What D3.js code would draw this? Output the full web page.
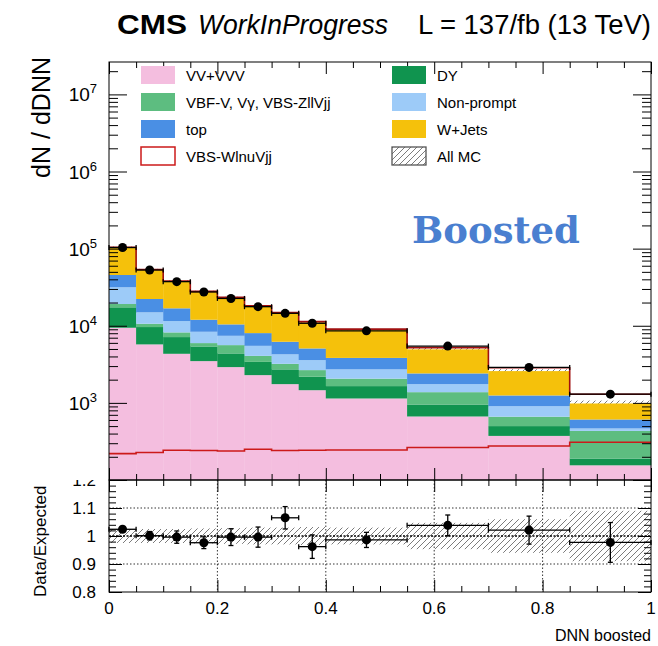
<!DOCTYPE html>
<html lang="en">
<head>
<meta charset="UTF-8">
<title>DNN boosted</title>
<script src="https://d3js.org/d3.v7.min.js"></script>
<style>
    body { margin: 0; background: #fff; }
    svg { display: block; font-family: "Liberation Sans", Arial, Helvetica, sans-serif; }
</style>
</head>
<body>
<svg id="chart" width="658" height="646"></svg>
<script>
// bins of the DNN score
const binEdges = [0, 0.05, 0.1, 0.15, 0.2, 0.25, 0.3, 0.35, 0.4, 0.55, 0.7, 0.85, 1.0];

// background processes (stacked, bottom to top)
const vv        = [9420, 5730, 4330, 3480, 2910, 2290, 1750, 1460, 1140, 666, 373, 155];
const dy        = [7920, 3890, 2800, 1910, 1470, 1110, 970, 720, 510, 287, 127, 35];
const vbf       = [1800, 1000, 1070, 570, 1230, 670, 490, 480, 410, 424, 162, 243];
const nonprompt = [12410, 4310, 3310, 2400, 1800, 1420, 1050, 930, 660, 373, 244, 33];
const top_      = [13950, 7300, 5320, 3610, 3010, 2540, 1940, 1490, 1110, 660, 342, 143];
const wjets     = [58300, 31100, 20930, 15700, 12690, 9820, 8430, 5990, 4960, 2532, 1334, 373];

// signal
const signal = [220, 227, 243, 241, 238, 251, 241, 243, 245, 264, 276, 309];

// data
const data = [103300, 52800, 37340, 27440, 22600, 17680, 14500, 10770, 8600, 5445, 2884, 1297];

// ratio panel
const ratio    = [1.024, 1.001, 0.996, 0.976, 0.996, 0.996, 1.065, 0.962, 0.986, 1.038, 1.021, 0.977];
const ratioErr = [0.007, 0.015, 0.022, 0.021, 0.03, 0.036, 0.04, 0.042, 0.027, 0.037, 0.05, 0.071];
const bandErr  = [0.025, 0.025, 0.025, 0.027, 0.028, 0.03, 0.03, 0.032, 0.03, 0.047, 0.06, 0.09];

const xTicksMajor = [0, 0.2, 0.4, 0.6, 0.8, 1];
const xTickLabels = ["0", "0.2", "0.4", "0.6", "0.8", "1"];
const yPowers = [3, 4, 5, 6, 7];
const rTicksMajor = [0.8, 0.9, 1, 1.1, 1.2];
const rTickLabels = ["0.8", "0.9", "1", "1.1", "1.2"];

const legendCol1 = [
    { label: "VV+VVV", key: "vv" },
    { label: "VBF-V, V\u03b3, VBS-ZllVjj", key: "vbf" },
    { label: "top", key: "top" },
    { label: "VBS-WlnuVjj", key: "signal" }
];
const legendCol2 = [
    { label: "DY", key: "dy" },
    { label: "Non-prompt", key: "nonprompt" },
    { label: "W+Jets", key: "wjets" },
    { label: "All MC", key: "allmc" }
];

const colors = {
    vv: "#f4bedf",
    dy: "#10944f",
    vbf: "#5dbd80",
    nonprompt: "#9dcbf8",
    top: "#4a8fe4",
    wjets: "#f5c10b",
    signal: "#cc1a1a"
};

const left = 109, right = 651;
const mainTop = 62, mainBottom = 480, ratioBottom = 592;

const svg = d3.select("#chart");

const x = d3.scaleLinear().domain([0, 1]).range([left, right]);
const y = d3.scaleLog().domain([100, Math.pow(10, 7.42)]).range([mainBottom, mainTop]);
const yr = d3.scaleLinear().domain([0.8, 1.2]).range([ratioBottom, mainBottom]);

const defs = svg.append("defs");
defs.append("pattern")
    .attr("id", "hatch")
    .attr("patternUnits", "userSpaceOnUse")
    .attr("width", 6).attr("height", 6)
    .append("path")
    .attr("d", "M-1,1 l2,-2 M0,6 l6,-6 M5,7 l2,-2")
    .attr("stroke", "#444")
    .attr("stroke-width", 0.7);

defs.append("clipPath").attr("id", "ratioClip")
    .append("rect").attr("x", 0).attr("y", mainBottom).attr("width", 658).attr("height", 646 - mainBottom);

const bins = binEdges.slice(0, -1).map((lo, i) => ({
    lo, hi: binEdges[i + 1],
    vv: vv[i], dy: dy[i], vbf: vbf[i], nonprompt: nonprompt[i], top: top_[i], wjets: wjets[i],
    signal: signal[i], data: data[i],
    ratio: ratio[i], ratioErr: ratioErr[i], bandErr: bandErr[i]
}));
bins.forEach(d => { d.total = d.vv + d.dy + d.vbf + d.nonprompt + d.top + d.wjets; });

// ---------- main panel ----------
const main = svg.append("g");

// uncertainty band (under the stack, so it shows only above it)
main.selectAll(".band")
    .data(bins).enter().append("rect")
    .attr("x", d => x(d.lo))
    .attr("width", d => x(d.hi) - x(d.lo))
    .attr("y", d => y(d.total * (1 + d.bandErr)))
    .attr("height", d => y(d.total * (1 - d.bandErr)) - y(d.total * (1 + d.bandErr)))
    .attr("fill", "url(#hatch)");

const keys = ["vv", "dy", "vbf", "nonprompt", "top", "wjets"];
const series = d3.stack().keys(keys)(bins);

main.selectAll(".layer")
    .data(series).enter().append("g")
    .attr("fill", s => colors[s.key])
    .selectAll("rect")
    .data(s => s).enter().append("rect")
    .attr("x", d => x(d.data.lo))
    .attr("width", d => x(d.data.hi) - x(d.data.lo) + 0.3)
    .attr("y", d => y(d[1]))
    .attr("height", d => y(Math.max(d[0], 100)) - y(d[1]));

// signal: alone, and stacked on top of the backgrounds
const step = d3.line().curve(d3.curveStepAfter).x(d => x(d.x)).y(d => y(d.v));
const stepPts = f => bins.map(d => ({ x: d.lo, v: f(d) })).concat([{ x: 1, v: f(bins[bins.length - 1]) }]);

main.append("path")
    .attr("d", step(stepPts(d => d.signal)))
    .attr("fill", "none").attr("stroke", colors.signal).attr("stroke-width", 1.6);

main.append("path")
    .attr("d", step(stepPts(d => d.total + d.signal)))
    .attr("fill", "none").attr("stroke", "#a01010").attr("stroke-width", 1.6);

// data points
const dataG = main.append("g").attr("stroke", "#000").attr("stroke-width", 1.3);
bins.forEach(d => {
    const cy = y(d.data), cx = x((d.lo + d.hi) / 2);
    dataG.append("line").attr("x1", x(d.lo)).attr("x2", x(d.hi)).attr("y1", cy).attr("y2", cy);
    dataG.append("line").attr("x1", x(d.lo)).attr("x2", x(d.lo)).attr("y1", cy - 2.5).attr("y2", cy + 2.5);
    dataG.append("line").attr("x1", x(d.hi)).attr("x2", x(d.hi)).attr("y1", cy - 2.5).attr("y2", cy + 2.5);
    dataG.append("line").attr("x1", cx).attr("x2", cx)
        .attr("y1", y(d.data * (1 + d.ratioErr))).attr("y2", y(d.data * (1 - d.ratioErr)));
    dataG.append("circle").attr("cx", cx).attr("cy", cy).attr("r", 4.5).attr("fill", "#000").attr("stroke", "none");
});

// axes of the main panel
const minorX = d3.range(0, 1.0001, 0.05).filter(v => !xTicksMajor.some(m => Math.abs(m - v) < 1e-6));
const logMajor = yPowers.concat([2]).map(p => Math.pow(10, p));
const logMinor = y.ticks().filter(v => !logMajor.includes(v));

function addAxis(g, axis, values, size) {
    g.call(axis.tickValues(values).tickSizeInner(-size).tickSizeOuter(0).tickFormat(""));
    g.select(".domain").remove();
    g.selectAll("line").attr("stroke", "#000");
}

[[d3.axisLeft, left], [d3.axisRight, right]].forEach(([ax, px]) => {
    addAxis(svg.append("g").attr("transform", `translate(${px},0)`), ax(y), logMajor, 18);
    addAxis(svg.append("g").attr("transform", `translate(${px},0)`), ax(y), logMinor, 9);
});
[[d3.axisTop, mainTop], [d3.axisBottom, mainBottom]].forEach(([ax, py]) => {
    addAxis(svg.append("g").attr("transform", `translate(0,${py})`), ax(x), xTicksMajor, 12);
    addAxis(svg.append("g").attr("transform", `translate(0,${py})`), ax(x), minorX, 6);
});

main.append("rect")
    .attr("x", left).attr("y", mainTop)
    .attr("width", right - left).attr("height", mainBottom - mainTop)
    .attr("fill", "none").attr("stroke", "#000").attr("stroke-width", 1);

// y labels 10^n
yPowers.forEach(p => {
    const t = svg.append("text")
        .attr("x", 97).attr("y", y(Math.pow(10, p)) + 7)
        .attr("text-anchor", "end").attr("font-size", 19).attr("fill", "#000");
    t.append("tspan").text("10");
    t.append("tspan").attr("dy", -8).attr("font-size", 13).text(p);
});

svg.append("text")
    .attr("transform", `translate(50,${mainTop - 5}) rotate(-90)`)
    .attr("text-anchor", "end").attr("font-size", 25)
    .text("dN / dDNN");

// legend
const legend = svg.append("g").attr("font-size", 15);
function legendRow(item, i, bx, tx) {
    const cy = 75 + i * 27;
    const box = legend.append("rect")
        .attr("x", bx).attr("y", cy - 9).attr("width", 34).attr("height", 18);
    if (item.key === "signal") {
        box.attr("fill", "#fff").attr("stroke", colors.signal).attr("stroke-width", 1.5);
    } else if (item.key === "allmc") {
        box.attr("fill", "url(#hatch)").attr("stroke", "#555").attr("stroke-width", 1.3);
    } else {
        box.attr("fill", colors[item.key]);
    }
    legend.append("text").attr("x", tx).attr("y", cy + 5.5).text(item.label);
}
legendCol1.forEach((d, i) => legendRow(d, i, 141, 186));
legendCol2.forEach((d, i) => legendRow(d, i, 392, 437));

svg.append("text")
    .attr("x", 412).attr("y", 243)
    .attr("font-family", "'DejaVu Serif', serif").attr("font-weight", "bold")
    .attr("font-size", 37).attr("fill", "#4a7fd0")
    .text("Boosted");

// header
svg.append("text").attr("x", 117).attr("y", 34)
    .attr("font-size", 28).attr("font-weight", "bold")
    .attr("textLength", 70).attr("lengthAdjust", "spacingAndGlyphs").text("CMS");
svg.append("text").attr("x", 198).attr("y", 34)
    .attr("font-size", 27).attr("font-style", "italic")
    .attr("textLength", 190).attr("lengthAdjust", "spacingAndGlyphs").text("WorkInProgress");
svg.append("text").attr("x", 418).attr("y", 34)
    .attr("font-size", 27)
    .attr("textLength", 233).attr("lengthAdjust", "spacingAndGlyphs").text("L = 137/fb (13 TeV)");

// ---------- ratio panel ----------
const ratioG = svg.append("g");

const grid = ratioG.append("g").attr("stroke", "#000").attr("stroke-width", 0.8).attr("stroke-dasharray", "1.5,2");
[0.9, 1.1].forEach(v => grid.append("line").attr("x1", left).attr("x2", right).attr("y1", yr(v)).attr("y2", yr(v)));
[0.2, 0.4, 0.6, 0.8].forEach(v => grid.append("line").attr("x1", x(v)).attr("x2", x(v)).attr("y1", mainBottom).attr("y2", ratioBottom));

ratioG.selectAll(".rband")
    .data(bins).enter().append("rect")
    .attr("x", d => x(d.lo))
    .attr("width", d => x(d.hi) - x(d.lo))
    .attr("y", d => yr(1 + d.bandErr))
    .attr("height", d => yr(1 - d.bandErr) - yr(1 + d.bandErr))
    .attr("fill", "url(#hatch)");

ratioG.append("line")
    .attr("x1", left).attr("x2", right).attr("y1", yr(1)).attr("y2", yr(1))
    .attr("stroke", "#000").attr("stroke-width", 1.6).attr("stroke-dasharray", "2,1.5");

const rpts = ratioG.append("g").attr("stroke", "#000").attr("stroke-width", 1.3);
bins.forEach(d => {
    const cy = yr(d.ratio), cx = x((d.lo + d.hi) / 2);
    rpts.append("line").attr("x1", x(d.lo)).attr("x2", x(d.hi)).attr("y1", cy).attr("y2", cy);
    rpts.append("line").attr("x1", x(d.lo)).attr("x2", x(d.lo)).attr("y1", cy - 2.5).attr("y2", cy + 2.5);
    rpts.append("line").attr("x1", x(d.hi)).attr("x2", x(d.hi)).attr("y1", cy - 2.5).attr("y2", cy + 2.5);
    rpts.append("line").attr("x1", cx).attr("x2", cx).attr("y1", yr(d.ratio + d.ratioErr)).attr("y2", yr(d.ratio - d.ratioErr));
    rpts.append("line").attr("x1", cx - 2.5).attr("x2", cx + 2.5).attr("y1", yr(d.ratio + d.ratioErr)).attr("y2", yr(d.ratio + d.ratioErr));
    rpts.append("line").attr("x1", cx - 2.5).attr("x2", cx + 2.5).attr("y1", yr(d.ratio - d.ratioErr)).attr("y2", yr(d.ratio - d.ratioErr));
    rpts.append("circle").attr("cx", cx).attr("cy", cy).attr("r", 4.5).attr("fill", "#000").attr("stroke", "none");
});

const minorR = d3.range(0.8, 1.2001, 0.02).filter(v => !rTicksMajor.some(m => Math.abs(m - v) < 1e-6));
[[d3.axisLeft, left], [d3.axisRight, right]].forEach(([ax, px]) => {
    addAxis(svg.append("g").attr("transform", `translate(${px},0)`), ax(yr), rTicksMajor, 13);
    addAxis(svg.append("g").attr("transform", `translate(${px},0)`), ax(yr), minorR, 7);
});
[[d3.axisTop, mainBottom], [d3.axisBottom, ratioBottom]].forEach(([ax, py]) => {
    addAxis(svg.append("g").attr("transform", `translate(0,${py})`), ax(x), xTicksMajor, 12);
    addAxis(svg.append("g").attr("transform", `translate(0,${py})`), ax(x), minorX, 6);
});

ratioG.append("rect")
    .attr("x", left).attr("y", mainBottom)
    .attr("width", right - left).attr("height", ratioBottom - mainBottom)
    .attr("fill", "none").attr("stroke", "#000").attr("stroke-width", 1);

const rLabels = svg.append("g").attr("clip-path", "url(#ratioClip)").attr("font-size", 17);
rTicksMajor.forEach((v, i) => {
    rLabels.append("text").attr("x", 96).attr("y", yr(v) + 6)
        .attr("text-anchor", "end").text(rTickLabels[i]);
});
rLabels.append("text")
    .attr("transform", `translate(46,597) rotate(-90)`)
    .attr("font-size", 17)
    .text("Data/Expected");

xTicksMajor.forEach((v, i) => {
    svg.append("text").attr("x", x(v)).attr("y", 614)
        .attr("text-anchor", "middle").attr("font-size", 17).text(xTickLabels[i]);
});

svg.append("text").attr("x", 651).attr("y", 641)
    .attr("text-anchor", "end").attr("font-size", 16).text("DNN boosted");
</script>
</body>
</html>
